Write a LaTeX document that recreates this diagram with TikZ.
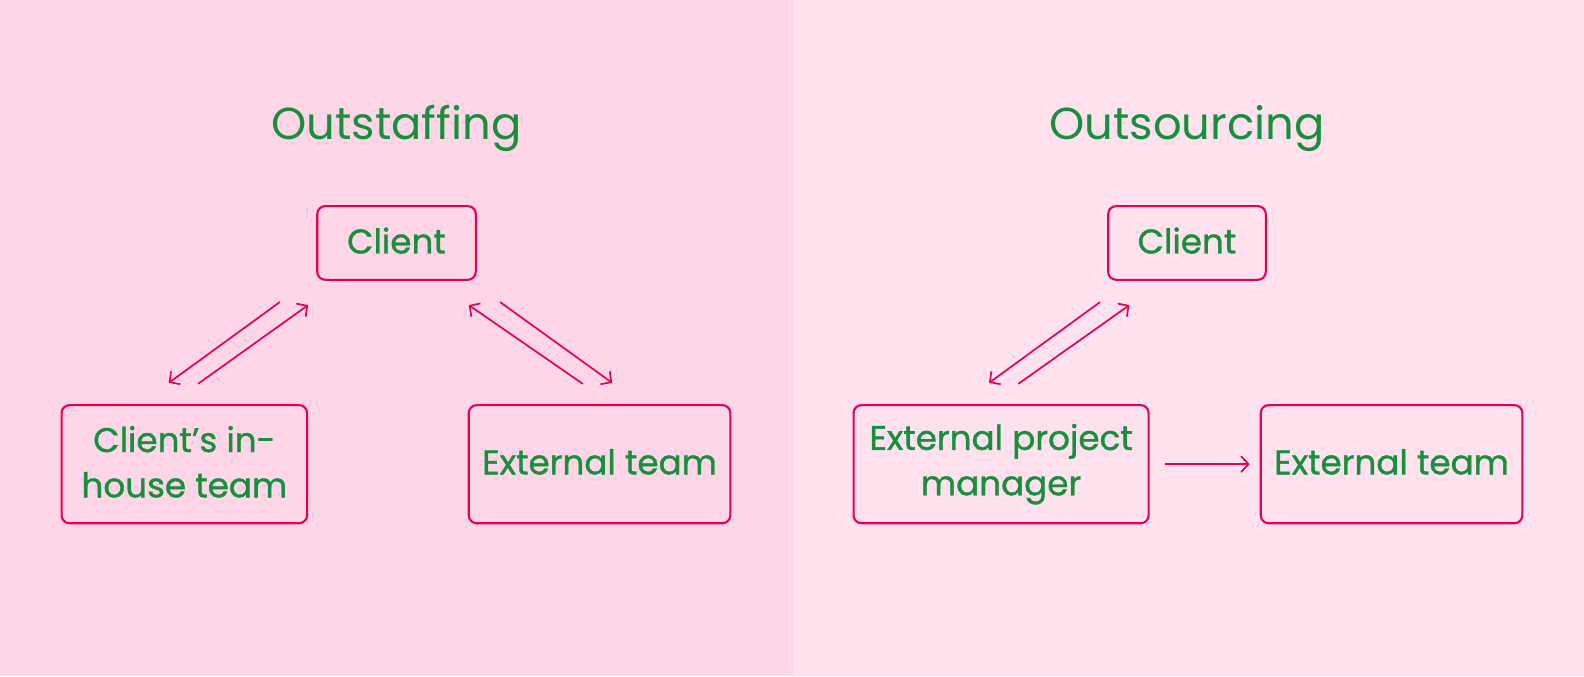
\documentclass[tikz,border=0pt]{standalone}
\usepackage{fontspec}
\setmainfont{Poppins}
\newfontfamily\boxfont{Poppins}[FakeBold=1]
\usetikzlibrary{arrows.meta}
\definecolor{bgL}{HTML}{FFD6E8}
\definecolor{bgR}{HTML}{FFE2EE}
\definecolor{edge}{HTML}{E5005C}
\definecolor{txt}{HTML}{178F3C}
\tikzset{
  box/.style={draw=edge, line width=2.1bp, rounded corners=8bp, align=center,
    text=txt, font=\boxfont\fontsize{34.3}{45.5}\selectfont, inner sep=0pt},
  lift/.style={text depth=5bp},
  ttl/.style={text=txt, font=\fontsize{45}{54}\selectfont, inner sep=0pt},
  conn/.style={draw=edge, line width=1.7bp, -{Straight Barb[length=7.5bp,width=16bp,line width=1.7bp]}}
}
\begin{document}
\begin{tikzpicture}[x=1.0102bp,y=-1.0102bp]
\useasboundingbox (0,0) rectangle (1568,669.2);
\fill[bgL] (0,0) rectangle (785,669.2);
\fill[bgR] (785,0) rectangle (1568,669.2);
\node[ttl] (t1) at (392.5,127) {Outstaffing};
\node[ttl] (t2) at (1175,127) {Outsourcing};
\node[box, lift, minimum width=158.6bp, minimum height=73.7bp] (c1) at (392.5,240.5) {Client};
\node[box, lift, minimum width=245.5bp, minimum height=118.2bp] (in) at (182.5,459.5) {Client’s in-\\house team};
\node[box, lift, minimum width=261.6bp, minimum height=118.2bp] (e1) at (593.5,459.5) {External team};
\node[box, lift, minimum width=157.6bp, minimum height=73.7bp] (c2) at (1175,240.5) {Client};
\node[box, minimum width=295bp, minimum height=118.2bp] (pm) at (991,459.5) {External project\\manager};
\node[box, lift, minimum width=261.6bp, minimum height=118.2bp] (e2) at (1377.5,459.5) {External team};
\coordinate (a1s) at (277,299); \coordinate (a1e) at (167,379);
\coordinate (a2s) at (196,380); \coordinate (a2e) at (305,302);
\coordinate (a3s) at (577,380); \coordinate (a3e) at (464,302);
\coordinate (a4s) at (495,299); \coordinate (a4e) at (606,379);
\coordinate (a5s) at (1089,299); \coordinate (a5e) at (979,379);
\coordinate (a6s) at (1008,380); \coordinate (a6e) at (1118,302);
\draw[conn] (a1s) -- (a1e);
\draw[conn] (a2s) -- (a2e);
\draw[conn] (a3s) -- (a3e);
\draw[conn] (a4s) -- (a4e);
\draw[conn] (a5s) -- (a5e);
\draw[conn] (a6s) -- (a6e);
\draw[conn] ([xshift=15bp]pm.east) -- ([xshift=-10bp]e2.west);
\end{tikzpicture}
\end{document}
